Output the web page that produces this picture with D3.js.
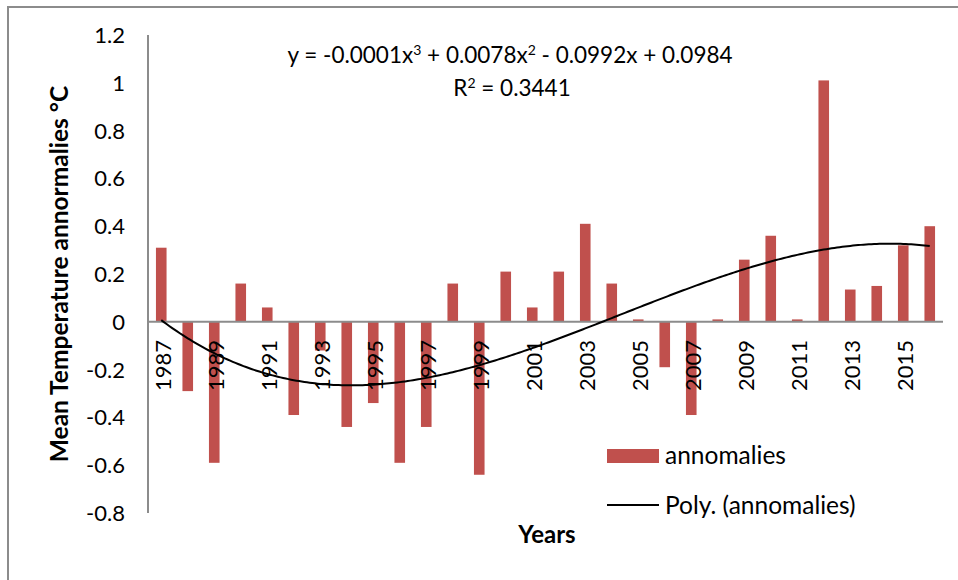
<!DOCTYPE html>
<html>
<head>
    <title>Mean Temperature anomalies</title>
    <style>
        body {
            margin: 0;
            background-color: white;
        }
        svg {
            display: block;
            font-family: Lato, "Open Sans", sans-serif;
        }
    </style>
    <script src="https://d3js.org/d3.v7.min.js"></script>
</head>
<body>
    <script>
        // data
        var years = d3.range(1987, 2017).map(String);
        var anomalies = [0.31, -0.29, -0.59, 0.16, 0.06, -0.39, -0.12, -0.44, -0.34, -0.59,
                         -0.44, 0.16, -0.64, 0.21, 0.06, 0.21, 0.41, 0.16, 0.01, -0.19,
                         -0.39, 0.01, 0.26, 0.36, 0.01, 1.01, 0.135, 0.15, 0.32, 0.40];
        var yTicks = [-0.8, -0.6, -0.4, -0.2, 0, 0.2, 0.4, 0.6, 0.8, 1, 1.2];
        var xLabels = years.filter(function(d, i) { return i % 2 === 0; });

        var width = 958, height = 580;
        var svg = d3.select("body").append("svg")
            .attr("width", width)
            .attr("height", height);

        // outer chart frame (runs past the right and bottom edges)
        svg.append("rect")
            .attr("x", 8)
            .attr("y", 7)
            .attr("width", 980)
            .attr("height", 600)
            .attr("fill", "white")
            .attr("stroke", "#8c8c8c")
            .attr("stroke-width", 2);

        // scales
        var x = d3.scaleBand()
            .domain(years)
            .range([148, 943])
            .paddingInner(0.6)
            .paddingOuter(0.3);

        var y = d3.scaleLinear()
            .domain([-0.8, 1.2])
            .range([513, 35]);

        var cx = function(d) { return x(d) + x.bandwidth() / 2; };

        // y axis line + labels
        svg.append("line")
            .attr("x1", 148).attr("x2", 148)
            .attr("y1", y(1.2)).attr("y2", y(-0.8))
            .attr("stroke", "#8c8c8c")
            .attr("stroke-width", 2);

        svg.selectAll(".ytick")
            .data(yTicks)
            .enter().append("text")
            .attr("class", "ytick")
            .attr("x", 125)
            .attr("y", function(d) { return y(d); })
            .attr("dy", "0.36em")
            .attr("text-anchor", "end")
            .attr("font-size", 22)
            .attr("fill", "#000")
            .text(function(d) { return String(d); }); // plain hyphen minus like Excel

        // bars
        svg.selectAll(".bar")
            .data(anomalies)
            .enter().append("rect")
            .attr("class", "bar")
            .attr("x", function(d, i) { return x(years[i]); })
            .attr("width", x.bandwidth())
            .attr("y", function(d) { return y(Math.max(0, d)); })
            .attr("height", function(d) { return Math.abs(y(d) - y(0)); })
            .attr("fill", "#C0504D");

        // zero line (category axis)
        svg.append("line")
            .attr("x1", 148).attr("x2", 943)
            .attr("y1", y(0)).attr("y2", y(0))
            .attr("stroke", "#8c8c8c")
            .attr("stroke-width", 2);

        // year labels, rotated
        svg.selectAll(".xtick")
            .data(xLabels)
            .enter().append("text")
            .attr("class", "xtick")
            .attr("transform", function(d) { return "translate(" + (cx(d) + 2) + "," + 340 + ") rotate(-90)"; })
            .attr("dy", "0.36em")
            .attr("text-anchor", "end")
            .attr("font-size", 22)
            .attr("fill", "#000")
            .text(function(d) { return d; });

        // 3rd order polynomial trend, least squares on x = 1..n
        function polyFit(vals, order) {
            var m = order + 1;
            var A = [], b = [];
            for (var r = 0; r < m; r++) {
                A.push(new Array(m).fill(0));
                b.push(0);
            }
            vals.forEach(function(v, i) {
                var t = i + 1;
                for (var r = 0; r < m; r++) {
                    for (var c = 0; c < m; c++) A[r][c] += Math.pow(t, r + c);
                    b[r] += v * Math.pow(t, r);
                }
            });
            // gaussian elimination
            for (var k = 0; k < m; k++) {
                var p = k;
                for (var r = k + 1; r < m; r++) if (Math.abs(A[r][k]) > Math.abs(A[p][k])) p = r;
                var tmp = A[k]; A[k] = A[p]; A[p] = tmp;
                var tb = b[k]; b[k] = b[p]; b[p] = tb;
                for (var r = k + 1; r < m; r++) {
                    var f = A[r][k] / A[k][k];
                    for (var c = k; c < m; c++) A[r][c] -= f * A[k][c];
                    b[r] -= f * b[k];
                }
            }
            var coef = new Array(m).fill(0);
            for (var k = m - 1; k >= 0; k--) {
                var s = b[k];
                for (var c = k + 1; c < m; c++) s -= A[k][c] * coef[c];
                coef[k] = s / A[k][k];
            }
            return coef;
        }

        var coef = polyFit(anomalies, 3);
        var trend = d3.range(1, anomalies.length + 0.001, 0.1).map(function(t) {
            var v = 0;
            coef.forEach(function(c, k) { v += c * Math.pow(t, k); });
            return [t, v];
        });

        var xT = d3.scaleLinear()
            .domain([1, anomalies.length])
            .range([cx(years[0]), cx(years[years.length - 1])]);

        var lineGenerator = d3.line()
            .x(function(d) { return xT(d[0]); })
            .y(function(d) { return y(d[1]); });

        svg.append("path")
            .attr("d", lineGenerator(trend))
            .attr("fill", "none")
            .attr("stroke", "#000")
            .attr("stroke-width", 2);

        // equation + R²
        var eq = svg.append("text")
            .attr("x", 510)
            .attr("y", 63)
            .attr("text-anchor", "middle")
            .attr("font-size", 22.5)
            .attr("fill", "#000");
        eq.append("tspan").text("y = -0.0001x");
        eq.append("tspan").attr("dy", -8).attr("font-size", 14).text("3");
        eq.append("tspan").attr("dy", 8).text(" + 0.0078x");
        eq.append("tspan").attr("dy", -8).attr("font-size", 14).text("2");
        eq.append("tspan").attr("dy", 8).text(" - 0.0992x + 0.0984");

        var r2 = svg.append("text")
            .attr("x", 512)
            .attr("y", 96)
            .attr("text-anchor", "middle")
            .attr("font-size", 22.5)
            .attr("fill", "#000");
        r2.append("tspan").text("R");
        r2.append("tspan").attr("dy", -8).attr("font-size", 14).text("2");
        r2.append("tspan").attr("dy", 8).text(" = 0.3441");

        // axis titles
        svg.append("text")
            .attr("transform", "translate(68,274) rotate(-90)")
            .attr("text-anchor", "middle")
            .attr("font-size", 24.5)
            .attr("font-weight", "bold")
            .attr("fill", "#000")
            .text("Mean Temperature annormalies °C");

        svg.append("text")
            .attr("x", 547)
            .attr("y", 543)
            .attr("text-anchor", "middle")
            .attr("font-size", 24)
            .attr("font-weight", "bold")
            .attr("fill", "#000")
            .text("Years");

        // legend
        var legend = svg.append("g");
        legend.append("rect")
            .attr("x", 607).attr("y", 449)
            .attr("width", 52).attr("height", 14)
            .attr("fill", "#C0504D");
        legend.append("text")
            .attr("x", 665).attr("y", 464)
            .attr("font-size", 24.5)
            .attr("fill", "#000")
            .text("annomalies");
        legend.append("line")
            .attr("x1", 607).attr("x2", 659)
            .attr("y1", 505).attr("y2", 505)
            .attr("stroke", "#000")
            .attr("stroke-width", 2);
        legend.append("text")
            .attr("x", 665).attr("y", 514)
            .attr("font-size", 24.5)
            .attr("fill", "#000")
            .text("Poly. (annomalies)");
    </script>
</body>
</html>
